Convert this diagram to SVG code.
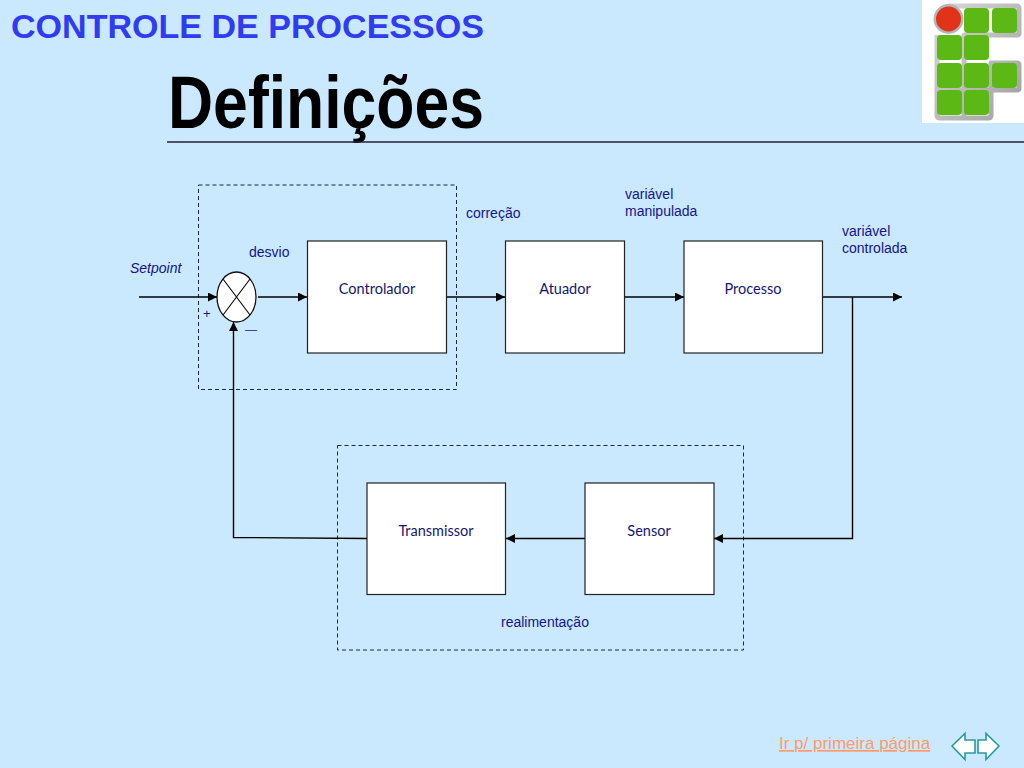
<svg xmlns="http://www.w3.org/2000/svg" width="1024" height="768" viewBox="0 0 1024 768">
<defs>
<marker id="ah" markerUnits="userSpaceOnUse" markerWidth="10" markerHeight="10" refX="9" refY="4.5" orient="auto"><path d="M0 0L9 4.5L0 9Z" fill="#000"/></marker>
<linearGradient id="fr" x1="0" y1="0" x2="1" y2="1"><stop offset="0" stop-color="#d8d8d8"/><stop offset="1" stop-color="#a0a0a0"/></linearGradient>
</defs>
<style>
.box{fill:#fff;stroke:#222;stroke-width:1.2}
.dash{fill:none;stroke:#1a2a3a;stroke-width:1;stroke-dasharray:4 3}
.c{fill:none;stroke:#000;stroke-width:1.4}
.a{marker-end:url(#ah)}
.bl{font-family:Lato,"Open Sans",sans-serif;font-size:14.500px;fill:#16166e;text-anchor:middle}
.lb{font-family:"Liberation Sans",Arial,sans-serif;font-size:14px;fill:#14148c}
.sq{fill:#5cb815}
.fr{fill:none;stroke:url(#fr);stroke-width:5;stroke-linejoin:round}
</style>
<rect width="1024" height="768" fill="#cbe9fe"/>
<text x="11" y="38" font-family="Liberation Sans,Arial,sans-serif" font-size="33.500" font-weight="bold" fill="#2f3cf0" textLength="473" lengthAdjust="spacingAndGlyphs">CONTROLE DE PROCESSOS</text>
<text x="168" y="128" font-family="Liberation Sans,Arial,sans-serif" font-size="74" font-weight="bold" fill="#000" textLength="316" lengthAdjust="spacingAndGlyphs">Definições</text>
<path d="M167 142H1024" stroke="#223" stroke-width="1.600"/>
<g id="logo">
<rect x="922" y="0" width="102" height="123" fill="#fff"/>
<path class="fr" d="M948 6H1017Q1019 6 1019 9V33Q1019 35 1017 35H964V88M937 35V115Q937 118 940 118H988Q991 118 991 115V63H1017Q1019 63 1019 65V88Q1019 90 1017 90H937M964 90V118"/>
<circle cx="948.500" cy="19" r="15" fill="#b5b5b5"/>
<rect class="sq" x="964" y="8" width="25" height="25" rx="4"/>
<rect class="sq" x="992" y="8" width="25" height="25" rx="4"/>
<rect class="sq" x="937" y="35" width="25" height="25" rx="4"/>
<rect class="sq" x="964" y="35" width="25" height="25" rx="4"/>
<rect class="sq" x="937" y="63" width="25" height="25" rx="4"/>
<rect class="sq" x="964" y="63" width="25" height="25" rx="4"/>
<rect class="sq" x="992" y="63" width="25" height="25" rx="4"/>
<rect class="sq" x="937" y="90" width="25" height="25" rx="4"/>
<rect class="sq" x="964" y="90" width="25" height="25" rx="4"/>
<circle cx="948.500" cy="19" r="12.500" fill="#e0331a"/>
</g>
<rect class="dash" x="198.500" y="185" width="258" height="204.500"/>
<rect class="dash" x="337.500" y="445.500" width="406" height="204.500"/>
<g id="connectors">
<path class="c a" d="M139 297H217"/>
<path class="c a" d="M258 297H307"/>
<path class="c a" d="M447 297H505"/>
<path class="c a" d="M625 297H684"/>
<path class="c a" d="M823 297H902"/>
<path class="c a" d="M852.500 297V538.500H714"/>
<path class="c a" d="M585 538.500H506"/>
<path class="c a" d="M367 538.500L233.500 537.500V322"/>
</g>
<g id="somador">
<ellipse cx="236.500" cy="297" rx="19.500" ry="25" fill="#fff" stroke="#111" stroke-width="1.300"/>
<path d="M223 279L250 315M250 279L223 315" stroke="#111" stroke-width="1.200"/>
</g>
<g id="controlador"><rect class="box" x="307.500" y="241" width="139" height="112"/><text class="bl" x="377" y="294">Controlador</text></g>
<g id="atuador"><rect class="box" x="505.500" y="241" width="119" height="112"/><text class="bl" x="565" y="294">Atuador</text></g>
<g id="processo"><rect class="box" x="684" y="241" width="138.500" height="112"/><text class="bl" x="753" y="294">Processo</text></g>
<g id="transmissor"><rect class="box" x="367" y="483" width="138.500" height="111.500"/><text class="bl" x="436" y="536">Transmissor</text></g>
<g id="sensor"><rect class="box" x="585" y="483" width="129" height="111.500"/><text class="bl" x="649" y="536">Sensor</text></g>
<g id="rotulos">
<text class="lb" x="130" y="273" font-style="italic">Setpoint</text>
<text class="lb" x="249" y="257">desvio</text>
<text class="lb" x="203" y="318" style="font-size:13px">+</text>
<text class="lb" x="245" y="333" style="font-size:11px">––</text>
<text class="lb" x="466" y="218">correção</text>
<text class="lb" x="625" y="199">variável</text>
<text class="lb" x="625" y="216">manipulada</text>
<text class="lb" x="842" y="236">variável</text>
<text class="lb" x="842" y="253">controlada</text>
<text class="lb" x="501" y="627">realimentação</text>
</g>
<text x="779" y="749" font-family="Liberation Sans,Arial,sans-serif" font-size="17" fill="#ff9a6b" text-decoration="underline">Ir p/ primeira página</text>
<g id="navegacao" fill="#fff" stroke="#2a9a9a" stroke-width="1.600">
<path d="M952 746L965 733.500V740H975V753H965V759.500Z"/>
<path d="M999 746L986 733.500V740H978V753H986V759.500Z"/>
</g>
</svg>
